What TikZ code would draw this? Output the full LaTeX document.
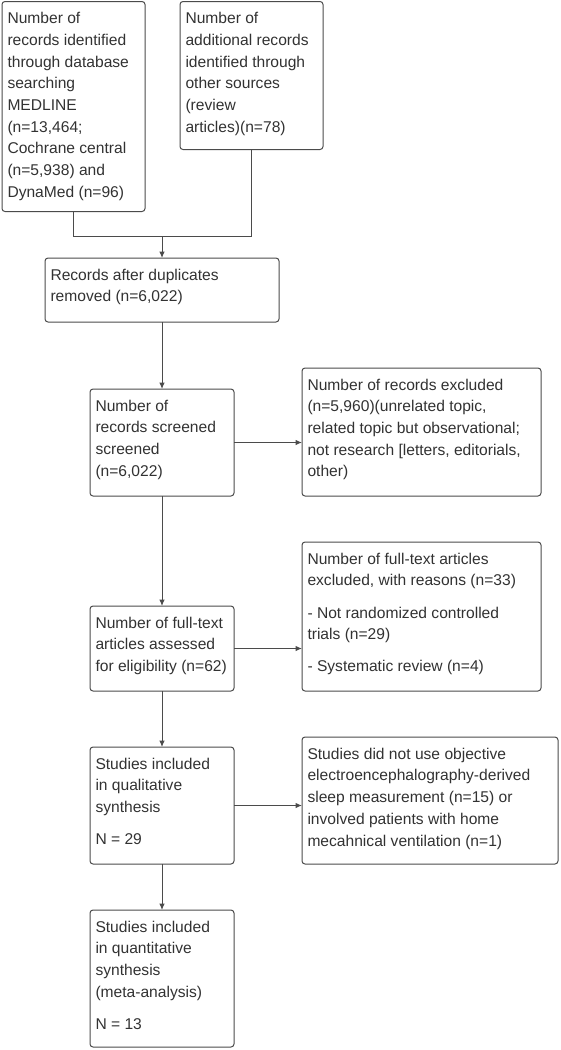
\documentclass[tikz,border=0pt]{standalone}
\usepackage{fontspec}
\setmainfont{Liberation Sans}
\usetikzlibrary{arrows.meta, positioning}
\definecolor{linegray}{RGB}{75,75,75}
\definecolor{textgray}{RGB}{50,50,50}
\newcommand{\boxtext}[3]{\parbox[t][#2][t]{#1}{\raggedright\strut #3}}

\begin{document}
\begin{tikzpicture}[x=1pt, y=1pt]
\tikzstyle{stage} = [rectangle, draw=linegray, line width=1pt, rounded corners=3pt,
    inner xsep=5.5pt, inner ysep=7pt, outer sep=0pt, text=textgray,
    font=\fontsize{15.6}{21.7}\selectfont, anchor=north west]
\tikzstyle{line} = [draw=linegray, line width=1pt]
\tikzstyle{arrow} = [line, -{Latex[length=6.5pt, width=5.5pt]}]

 \useasboundingbox (0,0) rectangle (561,-1050);

 \node [stage] (ident) at (2,-1.5) {\boxtext{132pt}{196pt}{Number of\\records identified\\through database\\searching\\MEDLINE\\(n=13,464;\\Cochrane central\\(n=5,938) and\\DynaMed (n=96)}};
 \node [stage, right=35pt of ident.north east, anchor=north west] (other) {\boxtext{132pt}{134pt}{Number of\\additional records\\identified through\\other sources\\(review\\articles)(n=78)}};

 \node [stage] (dedup) at (45,-258) {\boxtext{223pt}{50pt}{Records after duplicates\\removed (n=6,022)}};

 \node [stage, below=67pt of dedup.south, anchor=north] (screen) {\boxtext{133pt}{93pt}{Number of\\records screened\\screened\\(n=6,022)}};
 \node [stage, right=68pt of screen.south east, anchor=south west] (excl1) {\boxtext{228pt}{114pt}{Number of records excluded\\(n=5,960)(unrelated topic,\\related topic but observational;\\not research [letters, editorials,\\other)}};

 \node [stage, below=110pt of screen.south, anchor=north] (full) {\boxtext{133pt}{71pt}{Number of full-text\\articles assessed\\for eligibility (n=62)}};
 \node [stage, right=68pt of full.south east, anchor=south west] (excl2) {\boxtext{228pt}{135pt}{Number of full-text articles\\excluded, with reasons (n=33)\\[10.5pt]- Not randomized controlled\\trials (n=29)\\[10.5pt]- Systematic review (n=4)}};

 \node [stage, below=56pt of full.south, anchor=north] (qual) {\boxtext{133pt}{103pt}{Studies included\\in qualitative\\synthesis\\[10.5pt]N = 29}};
 \node [stage, right=68pt of qual.south east, anchor=south west] (excl3) {\boxtext{245pt}{113pt}{Studies did not use objective\\electroencephalography-derived\\sleep measurement (n=15) or\\involved patients with home\\mecahnical ventilation (n=1)}};

 \node [stage, below=46pt of qual.south, anchor=north] (quant) {\boxtext{133pt}{123pt}{Studies included\\in quantitative\\synthesis\\(meta-analysis)\\[10.5pt]N = 13}};

 \coordinate (join) at ([yshift=22pt]dedup.north);
 \path [line] (ident.south) |- (join);
 \path [line] (other.south) |- (join);
 \path [arrow] (join) -- (dedup);

 \path [arrow] (dedup) -- (screen);
 \path [arrow] (screen.east) -- (screen.east -| excl1.west);

 \path [arrow] (screen) -- (full);
 \path [arrow] (full.east) -- (full.east -| excl2.west);

 \path [arrow] (full) -- (qual);
 \path [arrow] (qual.east) -- (qual.east -| excl3.west);

 \path [arrow] (qual) -- (quant);
\end{tikzpicture}
\end{document}
